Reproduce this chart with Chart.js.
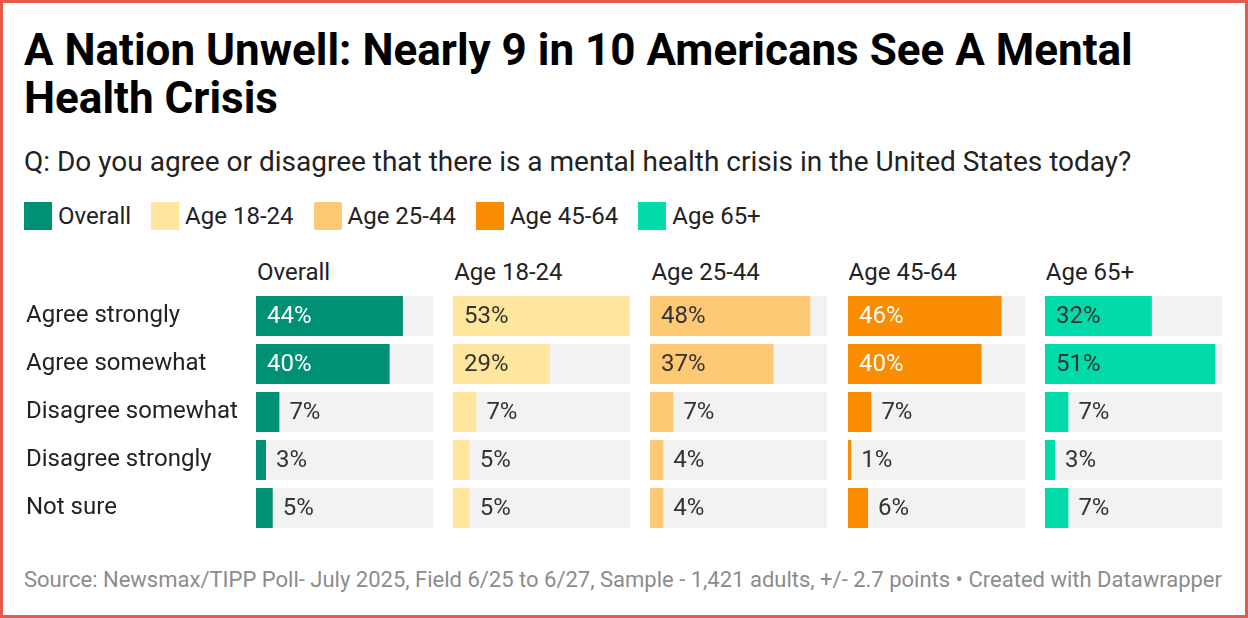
<!DOCTYPE html>
<html lang="en">
<head>
  <meta charset="UTF-8">
  <title>A Nation Unwell</title>
  <script src="https://cdn.jsdelivr.net/npm/chart.js"></script>
  <style>
    html, body {
      margin: 0;
      padding: 0;
      background: #fff;
    }
    .frame {
      position: relative;
      width: 1248px;
      height: 618px;
      box-sizing: border-box;
      border: 3px solid #e8594d;
      font-family: Roboto, sans-serif;
      color: #1a1a1a;
      overflow: hidden;
    }
    h1 {
      position: absolute;
      left: 21px;
      top: 23px;
      width: 1180px;
      margin: 0;
      font-size: 44px;
      line-height: 48px;
      font-weight: 700;
      color: #000;
    }
    .subtitle {
      position: absolute;
      left: 21px;
      top: 145px;
      font-size: 28px;
      line-height: 1;
      color: #222;
      white-space: nowrap;
    }
    .legend {
      position: absolute;
      left: 21px;
      top: 199px;
      height: 28px;
      display: flex;
      align-items: center;
      font-size: 24px;
      line-height: 1;
      color: #222;
    }
    .legend span.box {
      display: inline-block;
      width: 28px;
      height: 28px;
      margin-right: 6px;
    }
    .legend .item {
      display: flex;
      align-items: center;
      margin-right: 20px;
    }
    .head {
      position: absolute;
      top: 257px;
      font-size: 24px;
      line-height: 1;
      color: #222;
    }
    .panel {
      position: absolute;
      top: 289px;
    }
    .footer {
      position: absolute;
      left: 21px;
      top: 566px;
      font-size: 22px;
      line-height: 1;
      color: #8c8c8c;
      white-space: nowrap;
    }
  </style>
</head>
<body>
  <div class="frame">
    <h1>A Nation Unwell: Nearly 9 in 10 Americans See A Mental Health Crisis</h1>
    <div class="subtitle">Q: Do you agree or disagree that there is a mental health crisis in the United States today?</div>
    <div class="legend" id="legend"></div>
    <div id="panels"></div>
    <div class="footer">Source: Newsmax/TIPP Poll- July 2025, Field 6/25 to 6/27, Sample - 1,421 adults, +/- 2.7 points • Created with Datawrapper</div>
  </div>

  <script>
    // answers and groups
    const categories = ['Agree strongly', 'Agree somewhat', 'Disagree somewhat', 'Disagree strongly', 'Not sure'];
    const groups = ['Overall', 'Age 18-24', 'Age 25-44', 'Age 45-64', 'Age 65+'];

    // percent per answer
    const overall = [44, 40, 7, 3, 5];
    const age18to24 = [53, 29, 7, 5, 5];
    const age25to44 = [48, 37, 7, 4, 4];
    const age45to64 = [46, 40, 7, 1, 6];
    const age65plus = [32, 51, 7, 3, 7];

    const scaleMax = 53;

    const series = [overall, age18to24, age25to44, age45to64, age65plus];
    const colors = ['#009174', '#ffe59d', '#fec975', '#f98c00', '#00dba9'];
    const labelColors = ['#ffffff', '#333333', '#333333', '#ffffff', '#333333'];

    // legend
    const legend = document.getElementById('legend');
    groups.forEach((g, i) => {
      const item = document.createElement('div');
      item.className = 'item';
      item.innerHTML = '<span class="box" style="background:' + colors[i] + '"></span>' + g;
      legend.appendChild(item);
    });

    // value labels, inside for long bars, after the bar for short ones
    const valueLabels = {
      id: 'valueLabels',
      afterDatasetsDraw(chart, args, opts) {
        const ctx = chart.ctx;
        const meta = chart.getDatasetMeta(0);
        const data = chart.data.datasets[0].data;
        ctx.save();
        ctx.font = '24px Roboto, sans-serif';
        ctx.textBaseline = 'middle';
        ctx.textAlign = 'left';
        meta.data.forEach((bar, i) => {
          const v = data[i];
          const text = v + '%';
          if (v >= 15) {
            ctx.fillStyle = opts.inside;
            ctx.fillText(text, bar.base + 11, bar.y + 1);
          } else {
            ctx.fillStyle = '#333333';
            ctx.fillText(text, bar.x + 10, bar.y + 1);
          }
        });
        ctx.restore();
      }
    };

    const panelLeft = 253;
    const panelWidth = 177;
    const panelGap = 20.2;
    const panelHeight = 240;
    const axisWidth = 230;
    const panels = document.getElementById('panels');

    series.forEach((values, p) => {
      const x = panelLeft + p * (panelWidth + panelGap);
      const head = document.createElement('div');
      head.className = 'head';
      head.style.left = (x + 1) + 'px';
      head.textContent = groups[p];
      panels.appendChild(head);

      const first = p === 0;
      const w = Math.round(first ? panelWidth + axisWidth : panelWidth);
      const box = document.createElement('div');
      box.className = 'panel';
      box.style.left = (first ? x - axisWidth : x) + 'px';
      const canvas = document.createElement('canvas');
      canvas.width = w;
      canvas.height = panelHeight;
      canvas.style.width = w + 'px';
      canvas.style.height = panelHeight + 'px';
      box.appendChild(canvas);
      panels.appendChild(box);

      const yAxis = {
        display: first,
        grid: { display: false },
        border: { display: false },
        ticks: {
          crossAlign: 'far',
          padding: 0,
          color: '#222222',
          font: { family: 'Roboto', size: 24 }
        }
      };
      if (first) {
        yAxis.afterFit = (scale) => {
          scale.width = axisWidth;
          scale.paddingTop = 0;
          scale.paddingBottom = 0;
        };
      }

      new Chart(canvas, {
        type: 'bar',
        data: {
          labels: categories,
          datasets: [{
            data: values,
            backgroundColor: colors[p],
            grouped: false,
            categoryPercentage: 1,
            barPercentage: 40 / 48
          }, {
            data: categories.map(() => scaleMax),
            backgroundColor: '#f2f2f2',
            grouped: false,
            categoryPercentage: 1,
            barPercentage: 40 / 48
          }]
        },
        options: {
          indexAxis: 'y',
          responsive: false,
          animation: false,
          layout: { padding: 0 },
          plugins: {
            legend: { display: false },
            tooltip: { enabled: false },
            valueLabels: { inside: labelColors[p] }
          },
          scales: {
            x: {
              display: false,
              min: 0,
              max: scaleMax
            },
            y: yAxis
          }
        },
        plugins: [valueLabels]
      });
    });
  </script>
</body>
</html>
